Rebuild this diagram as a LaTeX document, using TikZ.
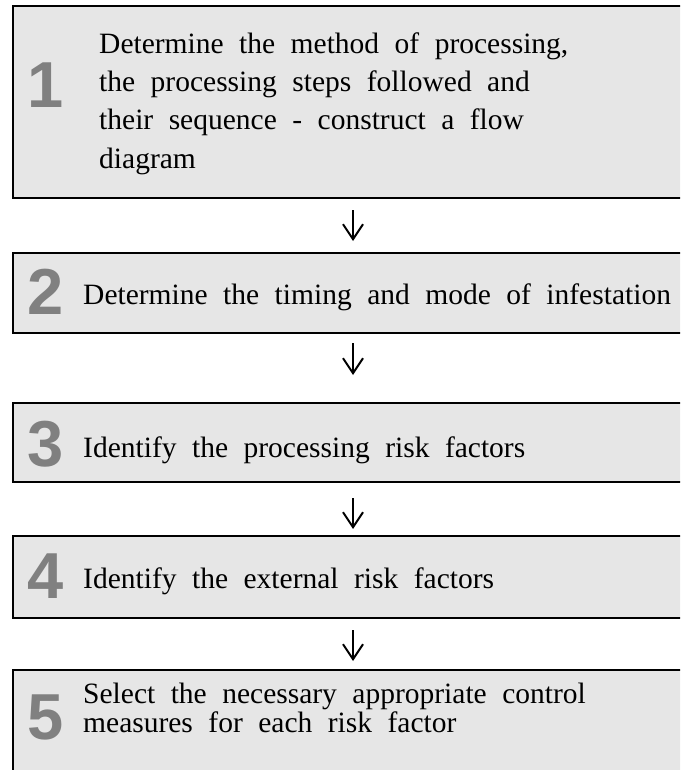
\documentclass[tikz,border=0pt]{standalone}
\usepackage{fontspec}
\setmainfont{Liberation Serif}[WordSpace=2.1]
\newfontfamily\numfont{Liberation Sans}
\usetikzlibrary{arrows.meta}
\definecolor{boxgray}{HTML}{E6E6E6}
\definecolor{numgray}{HTML}{808080}
\tikzset{
  stepbox/.style={draw=black, line width=2pt, fill=boxgray, anchor=north west,
    minimum width=720pt, inner sep=0pt, outer sep=0pt},
  stepnum/.style={anchor=base west, inner sep=0pt, text=numgray,
    font=\numfont\bfseries\fontsize{65}{65}\selectfont},
  steptext/.style={anchor=base west, inner sep=0pt, align=left,
    font=\fontsize{29.5}{38.3}\selectfont},
  flow/.style={line width=2pt, -{Straight Barb[length=15pt, width=20pt]}}
}
\begin{document}
\begin{tikzpicture}[x=1pt, y=1pt]
  \useasboundingbox (0,0) rectangle (680,-770);
  \clip (0,0) rectangle (680,-770);
  % boxes
  \node[stepbox, minimum height=192.3pt] (b1) at (12.7,-5.7) {};
  \node[stepbox, minimum height=80pt] (b2) at (12.7,-253) {};
  \node[stepbox, minimum height=79pt] (b3) at (12.7,-403) {};
  \node[stepbox, minimum height=82pt] (b4) at (12.7,-536) {};
  \node[stepbox, minimum height=140pt] (b5) at (12.7,-670) {};
  % numbers
  \node[stepnum] (n1) at (27,-108) {1};
  \node[stepnum] (n2) at (27,-314) {2};
  \node[stepnum] (n3) at (27,-466) {3};
  \node[stepnum] (n4) at (27,-598) {4};
  \node[stepnum] (n5) at (27,-739) {5};
  % texts (base = last line)
  \node[steptext] (t1) at (99,-168) {Determine the method of processing,\\
    the processing steps followed and\\
    their sequence - construct a flow\\
    diagram};
  \node[steptext] (t2) at (83,-304) {Determine the timing and mode of infestation};
  \node[steptext] (t3) at (83,-457) {Identify the processing risk factors};
  \node[steptext] (t4) at (83,-588) {Identify the external risk factors};
  \node[steptext, font=\fontsize{29.5}{26}\selectfont] (t5) at (83,-732)
    {Select the necessary appropriate control\\
    measures for each risk factor};
  % arrows
  \coordinate (mid) at (353,0);
  \draw[flow, shorten <=12pt, shorten >=12pt] (b1.south -| mid) -- (b2.north -| mid);
  \draw[flow, shorten <=10pt, shorten >=28pt] (b2.south -| mid) -- (b3.north -| mid);
  \draw[flow, shorten <=16pt, shorten >=7pt] (b3.south -| mid) -- (b4.north -| mid);
  \draw[flow, shorten <=12pt, shorten >=9pt] (b4.south -| mid) -- (b5.north -| mid);
\end{tikzpicture}
\end{document}
